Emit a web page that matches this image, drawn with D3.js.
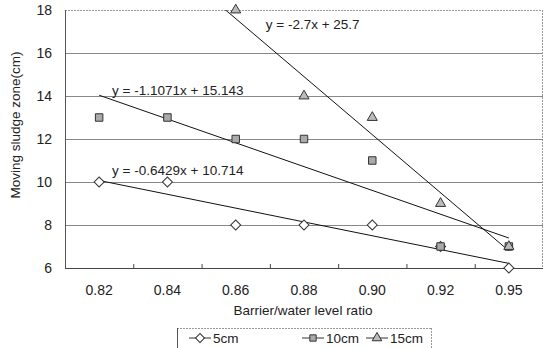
<!DOCTYPE html>
<html>
<head>
<meta charset="utf-8">
<script src="https://cdn.jsdelivr.net/npm/d3@7"></script>
<style>
  body { margin: 0; background: #fff; }
  text { font-family: "Liberation Sans", Arial, sans-serif; fill: #222; }
</style>
</head>
<body>
<svg id="chart" width="544" height="348"></svg>
<script>
// chart values
let cats = ["0.82", "0.84", "0.86", "0.88", "0.90", "0.92", "0.95"];
let s5 = [10, 10, 8, 8, 8, 7, 6];
let s10 = [13, 13, 12, 12, 11, 7, 7];
let s15 = [null, null, 18, 14, 13, 9, 7];
let seriesNames = ["5cm", "10cm", "15cm"];
let yTicks = [6, 8, 10, 12, 14, 16, 18];
// excel style linear trend lines, x = 1..7
let trends = [
    { slope: -0.6429, icpt: 10.714, label: "y = -0.6429x + 10.714", lx: 1.19, ly: 10.33 },
    { slope: -1.1071, icpt: 15.143, label: "y = -1.1071x + 15.143", lx: 1.19, ly: 14.05 },
    { slope: -2.7, icpt: 25.7, label: "y = -2.7x + 25.7", lx: 3.44, ly: 17.1 }
];

const svg = d3.select("#chart");
const m = { l: 65, r: 543, t: 10, b: 268 };

let x = d3.scaleBand(cats, [m.l, m.r]).padding(0);
let bw = x.bandwidth();
let xi = d3.scaleLinear([1, cats.length], [x(cats[0]) + bw / 2, x(cats[cats.length - 1]) + bw / 2]);
let y = d3.scaleLinear([6, 18], [m.b, m.t]);

svg.append("defs").append("clipPath").attr("id", "plotClip")
    .append("rect").attr("x", m.l).attr("y", m.t).attr("width", m.r - m.l).attr("height", m.b - m.t);

// gridlines
svg.append("g").selectAll("line")
    .data(yTicks.filter(d => d > 6 && d < 18))
    .enter().append("line")
    .attr("x1", m.l).attr("x2", m.r)
    .attr("y1", d => y(d) + 0.5).attr("y2", d => y(d) + 0.5)
    .attr("stroke", "#888").attr("stroke-width", 1);

// plot frame
svg.append("line").attr("x1", m.l).attr("x2", m.r).attr("y1", m.t + 0.5).attr("y2", m.t + 0.5)
    .attr("stroke", "#999").attr("stroke-dasharray", "2,1");
svg.append("line").attr("x1", m.r - 0.5).attr("x2", m.r - 0.5).attr("y1", m.t).attr("y2", m.b)
    .attr("stroke", "#999").attr("stroke-dasharray", "2,1");
svg.append("line").attr("x1", m.l + 0.5).attr("x2", m.l + 0.5).attr("y1", m.t).attr("y2", m.b)
    .attr("stroke", "#555");
svg.append("line").attr("x1", m.l).attr("x2", m.r).attr("y1", m.b + 0.5).attr("y2", m.b + 0.5)
    .attr("stroke", "#444");

// x ticks at band boundaries, pointing up
svg.append("g").selectAll("line")
    .data(cats.slice(1))
    .enter().append("line")
    .attr("x1", d => x(d) + 0.5).attr("x2", d => x(d) + 0.5)
    .attr("y1", m.b).attr("y2", m.b - 4)
    .attr("stroke", "#444");

// tick labels
svg.append("g").selectAll("text")
    .data(cats)
    .enter().append("text")
    .attr("x", d => x(d) + bw / 2).attr("y", 295)
    .attr("text-anchor", "middle").attr("font-size", 14)
    .text(d => d);

svg.append("g").selectAll("text")
    .data(yTicks)
    .enter().append("text")
    .attr("x", 52).attr("y", d => y(d) + 5)
    .attr("text-anchor", "end").attr("font-size", 14)
    .text(d => d);

// axis titles
svg.append("text").attr("x", 303).attr("y", 315).attr("text-anchor", "middle")
    .attr("font-size", 13.5).text("Barrier/water level ratio");
svg.append("text").attr("transform", "translate(20,125) rotate(-90)")
    .attr("text-anchor", "middle").attr("font-size", 13.5).text("Moving sludge zone(cm)");

// trend lines
let tg = svg.append("g").attr("clip-path", "url(#plotClip)");
tg.selectAll("line")
    .data(trends)
    .enter().append("line")
    .attr("x1", xi(1)).attr("x2", xi(cats.length))
    .attr("y1", d => y(d.icpt + d.slope * 1))
    .attr("y2", d => y(d.icpt + d.slope * cats.length))
    .attr("stroke", "#111").attr("stroke-width", 1);

svg.append("g").selectAll("text")
    .data(trends)
    .enter().append("text")
    .attr("x", d => xi(d.lx)).attr("y", d => y(d.ly))
    .attr("font-size", 13.5)
    .text(d => d.label);

// marker shapes (diamond = square turned 45deg)
const diamond = d3.symbol(d3.symbolSquare, 50);
const square = d3.symbol(d3.symbolSquare, 56);
const tri = d3.symbol(d3.symbolTriangle, 44);
let shapes = [
    { sym: diamond, rot: 45, fill: "#fff" },
    { sym: square, rot: 0, fill: "#aaa" },
    { sym: tri, rot: 0, fill: "#bbb" }
];

function markers(vals, sh, cls) {
    svg.append("g").selectAll("." + cls)
        .data(vals.map((v, i) => ({ v: v, c: cats[i] })).filter(d => d.v != null))
        .enter().append("path")
        .attr("class", cls)
        .attr("d", sh.sym())
        .attr("transform", d => "translate(" + (x(d.c) + bw / 2) + "," + y(d.v) + ") rotate(" + sh.rot + ")")
        .attr("fill", sh.fill).attr("stroke", "#333").attr("stroke-width", 1);
}
markers(s5, shapes[0], "m5");
markers(s10, shapes[1], "m10");
markers(s15, shapes[2], "m15");

// legend
let lg = svg.append("g");
lg.append("line").attr("x1", 177).attr("x2", 431).attr("y1", 328.5).attr("y2", 328.5)
    .attr("stroke", "#999").attr("stroke-dasharray", "2,1");
lg.append("line").attr("x1", 177.5).attr("x2", 177.5).attr("y1", 328).attr("y2", 348).attr("stroke", "#555");
lg.append("line").attr("x1", 431.5).attr("x2", 431.5).attr("y1", 328).attr("y2", 348)
    .attr("stroke", "#999").attr("stroke-dasharray", "2,1");

let legX = [189, 302, 366];
let li = lg.selectAll(".leg").data(seriesNames).enter().append("g").attr("class", "leg")
    .attr("transform", (d, i) => "translate(" + legX[i] + ",338)");
li.append("line").attr("x1", 0).attr("x2", 22).attr("y1", 0).attr("y2", 0).attr("stroke", "#333");
li.append("path").attr("d", (d, i) => shapes[i].sym.size(40)())
    .attr("transform", (d, i) => "translate(11,0) rotate(" + shapes[i].rot + ")")
    .attr("fill", (d, i) => shapes[i].fill).attr("stroke", "#333");
li.append("text").attr("x", 24).attr("y", 5).attr("font-size", 13.5).text(d => d);
</script>
</body>
</html>
